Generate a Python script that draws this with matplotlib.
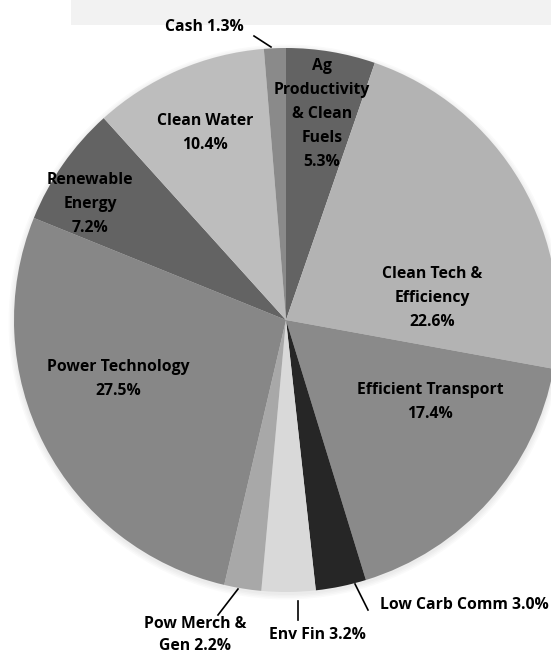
import matplotlib
matplotlib.use("Agg")
import matplotlib.pyplot as plt
from matplotlib.patches import Rectangle, Circle

categories = ["Ag Productivity & Clean Fuels", "Clean Tech & Efficiency", "Efficient Transport",
              "Low Carb Comm", "Env Fin", "Pow Merch & Gen", "Power Technology",
              "Renewable Energy", "Clean Water", "Cash"]
values = [5.3, 22.6, 17.4, 3.0, 3.2, 2.2, 27.5, 7.2, 10.4, 1.3]
colors = ["#636363", "#b3b3b3", "#8a8a8a", "#262626", "#d9d9d9", "#a8a8a8",
          "#878787", "#636363", "#bdbdbd", "#8a8a8a"]

W, H = 551, 656
fig = plt.figure(figsize=(W / 100, H / 100), dpi=100)
ax = fig.add_axes([0, 0, 1, 1])
ax.set_xlim(0, W)
ax.set_ylim(0, H)
ax.axis("off")

def Y(y):
    return H - y

# top gray box
ax.add_patch(Rectangle((71, Y(25)), W - 71, 25, facecolor="#f2f2f2", edgecolor="none", zorder=0))

cx, cy, r = 286, Y(320), 272
# soft shadow
for i in range(4):
    ax.add_patch(Circle((cx, cy - 2), r + 1 + 1.5 * i, facecolor="black", alpha=0.02,
                        edgecolor="none", zorder=1))

ax.pie(values, colors=colors, startangle=90, counterclock=False, center=(cx, cy), radius=r,
       wedgeprops=dict(linewidth=0), frame=True)
ax.set_xlim(0, W)
ax.set_ylim(0, H)
ax.set_aspect("equal")
ax.axis("off")

fkw = dict(fontfamily="Open Sans", fontweight="bold", fontsize=11.3, color="black",
           ha="center", va="center", zorder=5, linespacing=1.65)

ax.text(204, Y(27), "Cash 1.3%", **fkw)
ax.text(322, Y(114), "Ag\nProductivity\n& Clean\nFuels\n5.3%", **fkw)
ax.text(205, Y(133), "Clean Water\n10.4%", **fkw)
ax.text(90, Y(204), "Renewable\nEnergy\n7.2%", **fkw)
ax.text(432, Y(298), "Clean Tech &\nEfficiency\n22.6%", **fkw)
ax.text(430, Y(402), "Efficient Transport\n17.4%", **fkw)
ax.text(118, Y(379), "Power Technology\n27.5%", **fkw)
ax.text(464, Y(605), "Low Carb Comm 3.0%", **fkw)
ax.text(317, Y(635), "Env Fin 3.2%", **fkw)
fkw2 = dict(fkw, linespacing=1.45)
ax.text(195, Y(635), "Pow Merch &\nGen 2.2%", **fkw2)

lkw = dict(color="black", linewidth=1.2, zorder=5)
ax.plot([254, 271], [Y(36), Y(47)], **lkw)
ax.plot([355, 368], [Y(584), Y(610)], **lkw)
ax.plot([298, 298], [Y(601), Y(620)], **lkw)
ax.plot([238, 218], [Y(589), Y(615)], **lkw)

fig.savefig("out.png", dpi=100)
